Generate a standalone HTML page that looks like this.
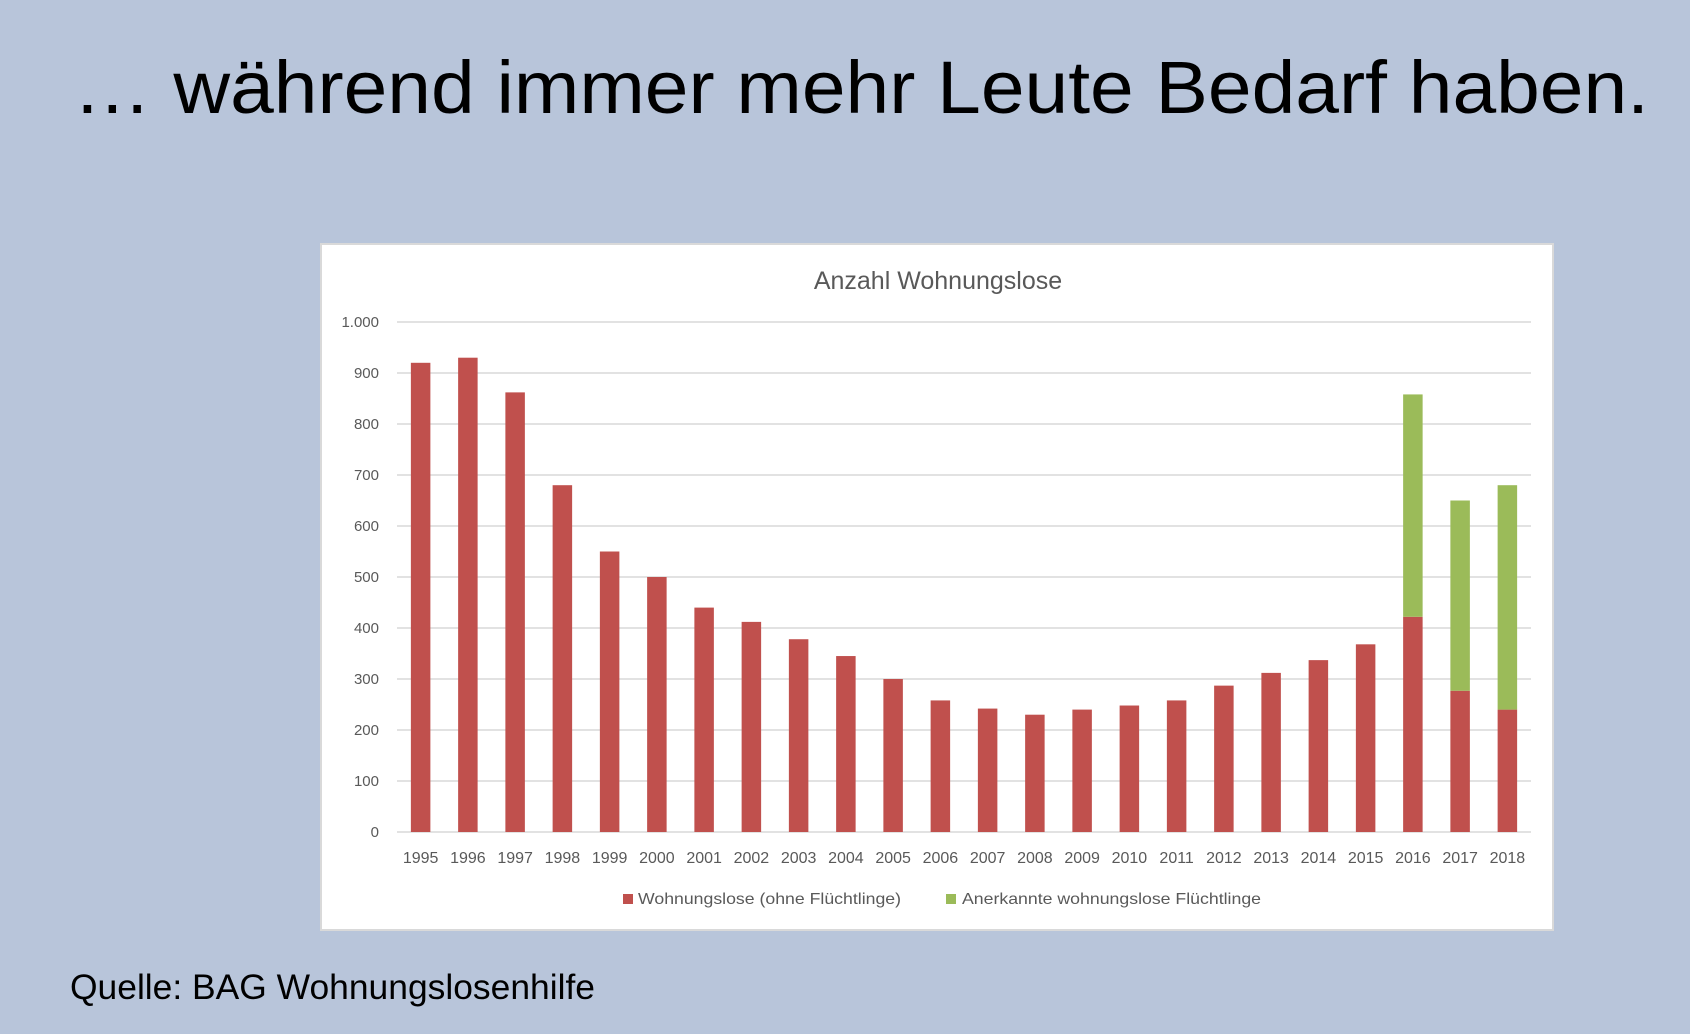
<!DOCTYPE html>
<html><head><meta charset="utf-8"><style>
html,body{margin:0;padding:0;background:#b8c5da;}
svg{display:block;}
</style></head><body>
<svg id="page" width="1690" height="1034" viewBox="0 0 1690 1034">
<rect x="0" y="0" width="1690" height="1034" fill="#b8c5da"/>
<text x="73" y="113" font-family="Liberation Sans, sans-serif" font-size="74" fill="#000" textLength="1576" lengthAdjust="spacingAndGlyphs">… während immer mehr Leute Bedarf haben.</text>
<text x="70" y="999" font-family="Liberation Sans, sans-serif" font-size="35" fill="#000" textLength="525" lengthAdjust="spacingAndGlyphs">Quelle: BAG Wohnungslosenhilfe</text>
<rect x="321" y="244" width="1232" height="686" fill="#fff" stroke="#d9d9d9" stroke-width="2"/>
<text x="938" y="289" text-anchor="middle" font-family="Liberation Sans, sans-serif" font-size="25" fill="#595959">Anzahl Wohnungslose</text>
<g id="grid"></g><g id="bars"></g><g id="xlabels"></g><g id="ylabels"></g>
<g>
<rect x="623" y="894" width="10" height="10" fill="#c0504d"/>
<text x="638" y="904" font-family="Liberation Sans, sans-serif" font-size="16" fill="#595959" textLength="263" lengthAdjust="spacingAndGlyphs">Wohnungslose (ohne Flüchtlinge)</text>
<rect x="946" y="894" width="10" height="10" fill="#9bbb59"/>
<text x="962" y="904" font-family="Liberation Sans, sans-serif" font-size="16" fill="#595959" textLength="299" lengthAdjust="spacingAndGlyphs">Anerkannte wohnungslose Flüchtlinge</text>
</g>
</svg>
<script>
const categories = ["1995","1996","1997","1998","1999","2000","2001","2002","2003","2004","2005","2006","2007","2008","2009","2010","2011","2012","2013","2014","2015","2016","2017","2018"];
const withoutRefugees = [920,930,862,680,550,500,440,412,378,345,300,258,242,230,240,248,258,287,312,337,368,422,277,240];
const refugees = [0,0,0,0,0,0,0,0,0,0,0,0,0,0,0,0,0,0,0,0,0,436,373,440];
const yTicks = [0,100,200,300,400,500,600,700,800,900,1000];
const yTickLabels = ["0","100","200","300","400","500","600","700","800","900","1.000"];

const NS="http://www.w3.org/2000/svg";
const x0=397,x1=1531,y0=832,y1=322,yMax=1000;
const step=(x1-x0)/categories.length, bw=19.5;
const yS=v=>y0-(v/yMax)*(y0-y1);
const xC=i=>x0+step*(i+0.5);
function mk(tag,attrs,parent){const e=document.createElementNS(NS,tag);for(const k in attrs)e.setAttribute(k,attrs[k]);document.getElementById(parent).appendChild(e);return e;}
yTicks.forEach((t,i)=>{
 const l=mk('line',{x1:x0,x2:x1,y1:yS(t),y2:yS(t),stroke:'#d9d9d9','stroke-width':1.5},'grid');
 
 
 const tx=mk('text',{x:379,y:yS(t)+5,'text-anchor':'end','font-family':'Liberation Sans, sans-serif','font-size':15,fill:'#595959'},'ylabels');
 tx.textContent=yTickLabels[i];
 
 
});
categories.forEach((c,i)=>{
 const a=withoutRefugees[i], b=refugees[i];
 const r=mk('rect',{x:xC(i)-bw/2,y:yS(a),width:bw,height:y0-yS(a),fill:'#c0504d'},'bars');
 
 
 if(b>0){
  const g=mk('rect',{x:xC(i)-bw/2,y:yS(a+b),width:bw,height:yS(a)-yS(a+b),fill:'#9bbb59'},'bars');
  
  
 }
 const t=mk('text',{x:xC(i),y:863,'text-anchor':'middle','font-family':'Liberation Sans, sans-serif','font-size':16,fill:'#595959'},'xlabels');
 t.textContent=c;
 
 
});
</script>
</body></html>
